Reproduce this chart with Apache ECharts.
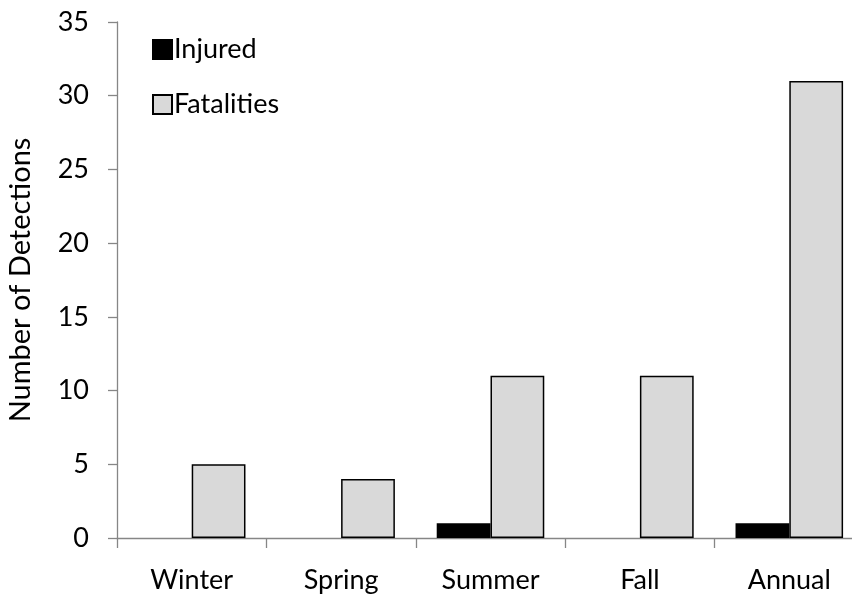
<!DOCTYPE html>
<html>
<head>
<meta charset="utf-8">
<script src="https://cdn.jsdelivr.net/npm/echarts@6/dist/echarts.min.js"></script>
<style>
  html, body { margin: 0; padding: 0; background: #fff; }
  #chart { width: 852px; height: 597px; }
</style>
</head>
<body>
<div id="chart"></div>
<script>
// data
const seasons = ["Winter", "Spring", "Summer", "Fall", "Annual"];
const injured = [0, 0, 1, 0, 1];
const fatalities = [5, 4, 11, 11, 31];

const fontFamily = "Lato, 'Open Sans', sans-serif";
const axisGray = "#868686";
const fontSize = 27;

// zero bars are not drawn in the original (no outline)
function hideZero(arr) {
  return arr.map(function (v) {
    return v === 0 ? { value: 0, itemStyle: { borderWidth: 0, opacity: 0 } } : v;
  });
}

const myChart = echarts.init(document.getElementById("chart"));

const option = {
  animation: false,
  backgroundColor: "#fff",
  textStyle: { fontFamily: fontFamily },
  grid: { left: 117, top: 22, right: -12, bottom: 59, containLabel: false, outerBoundsMode: "none" },
  legend: {
    orient: "vertical",
    left: 147,
    top: 31,
    itemWidth: 19,
    itemHeight: 19,
    itemGap: 28,
    icon: "rect",
    textStyle: { fontSize: fontSize, color: "#000", fontFamily: fontFamily, padding: [0, 0, 0, -3] },
    data: ["Injured", "Fatalities"]
  },
  xAxis: {
    type: "category",
    data: seasons,
    axisLine: { lineStyle: { color: axisGray, width: 1.3 } },
    axisTick: { show: true, length: 10, lineStyle: { color: axisGray, width: 1.3 } },
    axisLabel: { color: "#000", fontSize: fontSize, margin: 29, fontFamily: fontFamily }
  },
  yAxis: {
    type: "value",
    min: 0,
    max: 35,
    interval: 5,
    name: "Number of Detections",
    nameLocation: "middle",
    nameGap: 82,
    nameTextStyle: { fontSize: 29, color: "#000", fontFamily: fontFamily },
    splitLine: { show: false },
    axisLine: { show: true, lineStyle: { color: axisGray, width: 1.3 } },
    axisTick: { show: true, length: 9, lineStyle: { color: axisGray, width: 1.3 } },
    axisLabel: { color: "#000", fontSize: fontSize, margin: 28, fontFamily: fontFamily }
  },
  series: [
    {
      name: "Injured",
      type: "bar",
      data: hideZero(injured),
      barGap: "0%",
      barCategoryGap: "28%",
      itemStyle: { color: "#000", borderColor: "#000", borderWidth: 1.5 }
    },
    {
      name: "Fatalities",
      type: "bar",
      data: hideZero(fatalities),
      barGap: "0%",
      barCategoryGap: "28%",
      itemStyle: { color: "#d9d9d9", borderColor: "#000", borderWidth: 1.5 }
    }
  ]
};

myChart.setOption(option);
</script>
</body>
</html>
